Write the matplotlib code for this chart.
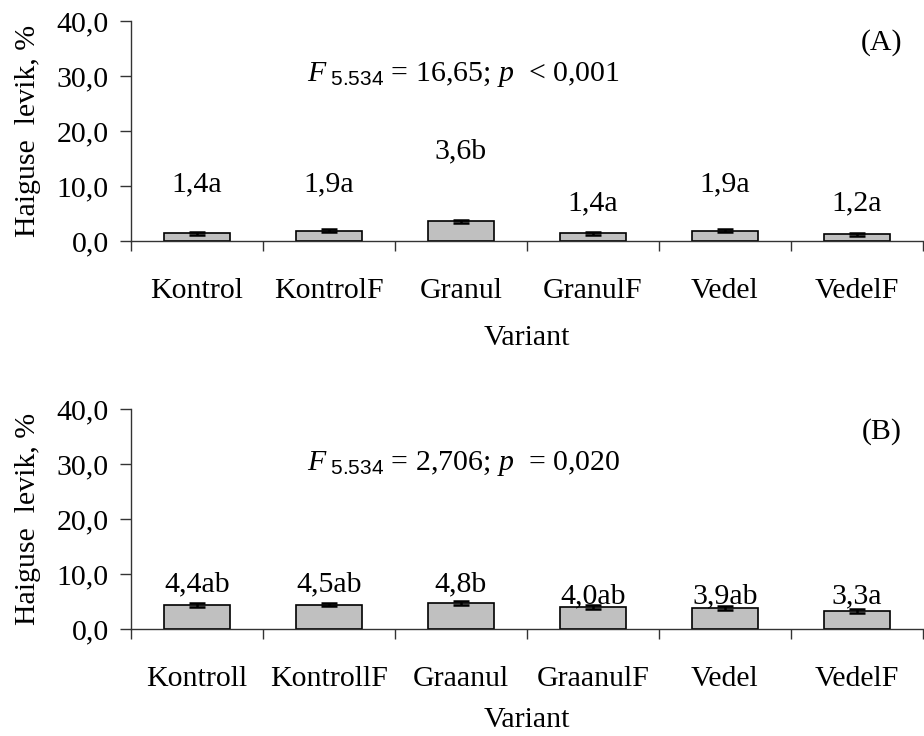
import numpy as np
import matplotlib; matplotlib.use("Agg")
import matplotlib.pyplot as plt

plt.rcParams["font.family"] = ["Liberation Serif", "DejaVu Serif"]
plt.rcParams["mathtext.fontset"] = "custom"
plt.rcParams["mathtext.rm"] = "Liberation Serif"
plt.rcParams["mathtext.it"] = "Liberation Serif:italic"
plt.rcParams["mathtext.sf"] = "Liberation Sans"

# ---- data ----
cats_a = ["Kontrol", "KontrolF", "Granul", "GranulF", "Vedel", "VedelF"]
vals_a = [1.4, 1.9, 3.6, 1.4, 1.9, 1.2]
err_a = [0.3, 0.3, 0.3, 0.3, 0.3, 0.3]
let_a = ["a", "a", "b", "a", "a", "a"]
stat_a = r"$\mathit{F}_{\ \mathsf{5.534}}$ = 16,65; $\mathit{p}$  < 0,001"

cats_b = ["Kontroll", "KontrollF", "Graanul", "GraanulF", "Vedel", "VedelF"]
vals_b = [4.4, 4.5, 4.8, 4.0, 3.9, 3.3]
err_b = [0.35, 0.35, 0.35, 0.35, 0.35, 0.3]
let_b = ["ab", "ab", "b", "ab", "ab", "a"]
stat_b = r"$\mathit{F}_{\ \mathsf{5.534}}$ = 2,706; $\mathit{p}$  = 0,020"

# label heights (layout only, as placed in the original)
lab_y_a = [10.2, 10.2, 16.2, 6.9, 10.2, 6.9]
lab_y_b = [8.2, 8.2, 8.2, 6.0, 6.0, 6.0]

FS = 21.5
fig = plt.figure(figsize=(9.24, 7.36), dpi=100)
ax_a = fig.add_axes([0.1418, 0.6726, 0.857, 0.2989])
ax_b = fig.add_axes([0.1418, 0.1450, 0.857, 0.2989])

def panel(ax, cats, vals, errs, lets, laby, stat, tag, xpad):
    x = np.arange(len(cats))
    ax.bar(x, vals, width=0.5, color="#c0c0c0", edgecolor="black", lw=1.2, zorder=2)
    ax.errorbar(x, vals, yerr=errs, fmt="none", ecolor="black", elinewidth=1.8,
                capsize=6, capthick=1.8, zorder=3)
    for xi, v, l, yy in zip(x, vals, lets, laby):
        ax.text(xi, yy, f"{v:.1f}".replace(".", ",") + l, ha="center", va="center", fontsize=FS)
    ax.text(2.02, 30.2, stat, ha="center", va="center", fontsize=FS)
    ax.text(5.19, 36.0, tag, ha="center", va="center", fontsize=FS)
    ax.set_xlim(-0.5, len(cats) - 0.5)
    ax.set_ylim(0, 40)
    ax.set_yticks([0, 10, 20, 30, 40])
    ax.set_yticklabels([f"{t:.1f}".replace(".", ",") for t in [0, 10, 20, 30, 40]], fontsize=FS)
    ax.set_xticks(x)
    ax.set_xticklabels(cats, fontsize=FS)
    ax.set_xticks(np.arange(-0.5, len(cats), 1.0), minor=True)
    ax.tick_params(axis="x", which="major", length=0, pad=26.5)
    ax.tick_params(axis="x", which="minor", length=7, width=1, color="#333333")
    ax.tick_params(axis="y", length=8, width=1, color="#333333", pad=8)
    for s in ["top", "right"]:
        ax.spines[s].set_visible(False)
    for s in ["left", "bottom"]:
        ax.spines[s].set_color("#333333")
        ax.spines[s].set_linewidth(1.0)
    ax.set_xlabel("Variant", fontsize=FS, labelpad=xpad)
    ax.set_ylabel("Haiguse  levik, %", fontsize=FS, labelpad=11)

panel(ax_a, cats_a, vals_a, err_a, let_a, lab_y_a, stat_a, "(A)", 15)
panel(ax_b, cats_b, vals_b, err_b, let_b, lab_y_b, stat_b, "(B)", 11)

fig.savefig("out.png", dpi=100)
